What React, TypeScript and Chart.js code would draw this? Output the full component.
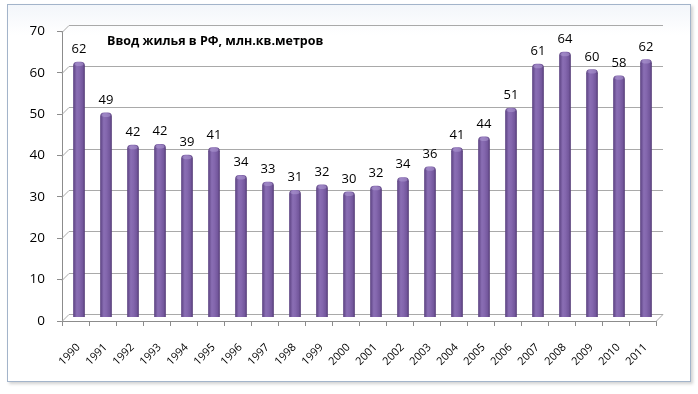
import React, { useEffect, useRef } from "react";
import { Chart, registerables } from "chart.js";

Chart.register(...registerables);

const years = ["1990","1991","1992","1993","1994","1995","1996","1997","1998","1999","2000","2001","2002","2003","2004","2005","2006","2007","2008","2009","2010","2011"];
const housing = [61.7, 49.4, 41.6, 41.8, 39.2, 41.0, 34.3, 32.7, 30.7, 32.0, 30.3, 31.7, 33.8, 36.4, 41.0, 43.6, 50.6, 61.2, 64.1, 59.9, 58.4, 62.3];
const titleText = "Ввод жилья в РФ, млн.кв.метров";
const yMin = 0;
const yMax = 70;
const yStep = 10;

const DX = 7;
const DY = -7.5;
const FONT = "'Open Sans', 'DejaVu Sans', sans-serif";

const wall3d = {
  id: "wall3d",
  beforeDatasetsDraw(chart: any) {
    const { ctx, chartArea } = chart;
    const { left, right } = chartArea;
    const y = chart.scales.y;
    ctx.save();
    ctx.strokeStyle = "#a9a9a9";
    ctx.lineWidth = 1;
    y.ticks.forEach((t: any) => {
      const py = Math.round(y.getPixelForValue(t.value)) + 0.5;
      const by = Math.round(py + DY) + 0.5;
      ctx.beginPath();
      ctx.moveTo(left + DX, by);
      ctx.lineTo(right + DX, by);
      ctx.moveTo(left, py);
      ctx.lineTo(left + DX, by);
      if (t.value === yMin) {
        ctx.moveTo(right, py);
        ctx.lineTo(right + DX, by);
      }
      ctx.stroke();
    });
    ctx.restore();
    ctx.save();
    ctx.translate(DX / 2, DY / 2);
  },
  afterDatasetsDraw(chart: any) {
    const { ctx, chartArea } = chart;
    ctx.restore();
    const meta = chart.getDatasetMeta(0);
    ctx.save();
    meta.data.forEach((el: any, i: number) => {
      const x = el.x + DX / 2;
      const top = el.y + DY / 2;
      ctx.beginPath();
      ctx.ellipse(x, top + 2, 4.5, 2, 0, 0, Math.PI * 2);
      ctx.fillStyle = "rgba(180,160,215,0.5)";
      ctx.fill();
      ctx.fillStyle = "#000";
      ctx.font = `13px ${FONT}`;
      ctx.textAlign = "center";
      ctx.textBaseline = "alphabetic";
      ctx.fillText(String(Math.round(housing[i])), x, top - 9);
    });
    ctx.font = `bold 12.5px ${FONT}`;
    ctx.textAlign = "left";
    ctx.textBaseline = "alphabetic";
    ctx.fillStyle = "#000";
    ctx.fillText(titleText, chartArea.left + 45, chartArea.top + 13.5);
    ctx.restore();
  },
};

export default function App() {
  const ref = useRef<HTMLCanvasElement | null>(null);

  useEffect(() => {
    document.body.style.margin = "0";
    const canvas = ref.current;
    if (!canvas) return;
    const chart = new Chart(canvas, {
      type: "bar",
      data: {
        labels: years,
        datasets: [
          {
            data: housing,
            barThickness: 11,
            borderRadius: { topLeft: 4, topRight: 4, bottomLeft: 0, bottomRight: 0 },
            borderSkipped: false,
            backgroundColor: (c: any) => {
              const ch = c.chart;
              const xs = ch.scales && ch.scales.x;
              if (!xs || xs.getPixelForValue === undefined) return "#7d5fa8";
              const x = xs.getPixelForValue(c.dataIndex);
              if (!isFinite(x)) return "#7d5fa8";
              const g = ch.ctx.createLinearGradient(x - 5.5, 0, x + 5.5, 0);
              g.addColorStop(0, "#5e4484");
              g.addColorStop(0.3, "#8a6eb4");
              g.addColorStop(0.55, "#8366ad");
              g.addColorStop(0.85, "#72569b");
              g.addColorStop(1, "#563d79");
              return g;
            },
          } as any,
        ],
      },
      options: {
        responsive: false,
        animation: false,
        layout: { padding: { left: 0, top: 31.5, right: 42, bottom: 0 } },
        plugins: {
          legend: { display: false },
          tooltip: { enabled: false },
          title: { display: false },
        },
        scales: {
          x: {
            offset: true,
            grid: {
              offset: true,
              drawOnChartArea: false,
              drawTicks: true,
              tickLength: 5,
              color: "#8c8c8c",
            },
            border: { display: true, color: "#8c8c8c" },
            ticks: {
              autoSkip: false,
              maxRotation: 45,
              minRotation: 45,
              padding: 15,
              labelOffset: 3,
              color: "#000",
              font: { family: FONT, size: 11 },
            },
            afterFit: (s: any) => {
              s.height = 73;
            },
          },
          y: {
            min: yMin,
            max: yMax,
            grid: {
              drawOnChartArea: false,
              drawTicks: true,
              tickLength: 5,
              color: "#8c8c8c",
            },
            border: { display: true, color: "#8c8c8c" },
            ticks: {
              stepSize: yStep,
              padding: 12,
              color: "#000",
              font: { family: FONT, size: 13.5 },
            },
            afterFit: (s: any) => {
              s.width = 62;
            },
          },
        },
      },
      plugins: [wall3d],
    });
    return () => chart.destroy();
  }, []);

  return (
    <div style={{ position: "relative", width: 698, height: 394, background: "#fff" }}>
      <div
        style={{
          position: "absolute",
          left: 7,
          top: 4,
          width: 682,
          height: 376,
          border: "1px solid #a3b4ca",
          boxShadow: "2px 2px 3px rgba(0,0,0,0.18)",
          background: "linear-gradient(#f3f6fa, #ffffff 30px)",
        }}
      />
      <canvas
        ref={ref}
        width={698}
        height={394}
        style={{ position: "absolute", left: 0, top: 0, width: 698, height: 394 }}
      />
    </div>
  );
}
